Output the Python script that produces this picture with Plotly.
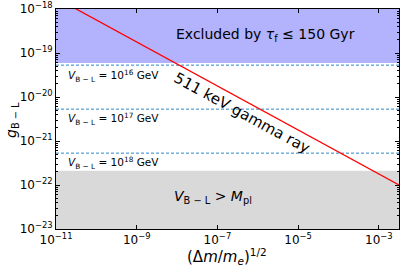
import plotly.graph_objects as go

# ---- data ----
x_range_log = [-11, -2.5]
y_range_log = [-23, -18]

gamma_x = [1.0e-11, 3.16e-3]
gamma_y = [1.78e-18, 1.0e-22]

vbl_exponents = [16, 17, 18]
vbl_g = [5.3e-20, 5.3e-21, 5.3e-22]

excluded_g_min = 5.9e-20
excluded_g_max = 1e-18
planck_g_min = 1e-23
planck_g_max = 2.1e-22

x_edges = [1e-11, 3.16e-3]

x_tick_exps = [-11, -9, -7, -5, -3]
y_tick_exps = [-23, -22, -21, -20, -19, -18]

FONT = "DejaVu Sans"

fig = go.Figure()

# excluded region (blue)
fig.add_trace(go.Scatter(
    x=[x_edges[0], x_edges[1], x_edges[1], x_edges[0], x_edges[0]],
    y=[excluded_g_min, excluded_g_min, excluded_g_max, excluded_g_max, excluded_g_min],
    fill="toself", fillcolor="rgb(179,179,253)", line=dict(width=0),
    mode="lines", hoverinfo="skip", showlegend=False))

# V > Mpl region (gray)
fig.add_trace(go.Scatter(
    x=[x_edges[0], x_edges[1], x_edges[1], x_edges[0], x_edges[0]],
    y=[planck_g_min, planck_g_min, planck_g_max, planck_g_max, planck_g_min],
    fill="toself", fillcolor="rgb(217,217,217)", line=dict(width=0),
    mode="lines", hoverinfo="skip", showlegend=False))

# dashed V_{B-L} lines
for g in vbl_g:
    fig.add_trace(go.Scatter(
        x=x_edges, y=[g, g], mode="lines",
        line=dict(color="#2f86c8", width=1, dash="3px,2px"),
        hoverinfo="skip", showlegend=False))

# 511 keV line
fig.add_trace(go.Scatter(
    x=gamma_x, y=gamma_y, mode="lines",
    line=dict(color="red", width=1.3), showlegend=False))

def sup(e):
    return "10<sup>" + ("−" if e < 0 else "") + str(abs(e)) + "</sup>"

minor_y = [m * 10.0 ** e for e in range(-23, -18) for m in range(2, 10)]

fig.update_xaxes(
    type="log", range=x_range_log, automargin=False,
    tickvals=[10.0 ** e for e in x_tick_exps],
    ticktext=[sup(e) for e in x_tick_exps],
    ticks="inside", ticklen=4, tickwidth=1, tickcolor="black",
    showline=True, linecolor="black", linewidth=1, mirror="ticks",
    showgrid=False, zeroline=False,
    tickfont=dict(family=FONT, size=12, color="black"))

fig.update_yaxes(
    type="log", range=y_range_log, automargin=False,
    tickvals=[10.0 ** e for e in y_tick_exps],
    ticktext=[sup(e) for e in y_tick_exps],
    ticks="inside", ticklen=4, tickwidth=1, tickcolor="black",
    minor=dict(tickvals=minor_y, ticks="inside", ticklen=2, tickwidth=0.8,
               tickcolor="black", showgrid=False),
    showline=True, linecolor="black", linewidth=1, mirror="ticks",
    showgrid=False, zeroline=False,
    tickfont=dict(family=FONT, size=12, color="black"))

ann = []
ann.append(dict(x=-5.82, y=-18.58, xref="x", yref="y",
                text="Excluded by <i>τ</i><sub>f</sub> ≤ 150 Gyr",
                showarrow=False, font=dict(family=FONT, size=14, color="black")))
for e, yl in zip(vbl_exponents, [-19.53, -20.51, -21.50]):
    ann.append(dict(x=-10.75, y=yl, xref="x", yref="y", xanchor="left",
                    text="<i>V</i><sub>B − L</sub> = 10<sup>%d</sup> GeV" % e,
                    showarrow=False, font=dict(family=FONT, size=10.5, color="black")))
ann.append(dict(x=-6.39, y=-20.36, xref="x", yref="y", textangle=28.5,
                text="511 keV gamma ray", showarrow=False,
                font=dict(family=FONT, size=15, color="black")))
ann.append(dict(x=-7.1, y=-22.27, xref="x", yref="y",
                text="<i>V</i><sub>B − L</sub> > <i>M</i><sub>pl</sub>",
                showarrow=False, font=dict(family=FONT, size=14, color="black")))
ann.append(dict(x=12, y=120, xref="paper", yref="paper", showarrow=False,
                xanchor="center", yanchor="middle",
                text="<i>g</i><sub>B − L</sub>", textangle=-90,
                font=dict(family=FONT, size=14, color="black")))
ann.append(dict(x=227, y=256, xref="paper", yref="paper", showarrow=False,
                xanchor="center", yanchor="middle",
                text="(Δ<i>m</i>/<i>m<sub>e</sub></i>)<sup>1/2</sup>",
                font=dict(family=FONT, size=15, color="black")))

# convert pixel coordinates for the axis-title annotations to paper coords
L, R, T, B = 56, 5, 9, 40
W, H = 404, 269
for a in ann[-2:]:
    px, py = a["x"], a["y"]
    a["x"] = (px - L) / (W - L - R)
    a["y"] = (H - B - py) / (H - T - B)

fig.update_layout(
    width=W, height=H,
    margin=dict(l=L, r=R, t=T, b=B, autoexpand=False),
    plot_bgcolor="white", paper_bgcolor="white",
    annotations=ann,
    font=dict(family=FONT, color="black"),
)

fig.write_html("out.html", config={"displayModeBar": False},
               post_script="document.body.style.margin='0';document.body.style.overflow='hidden';")
